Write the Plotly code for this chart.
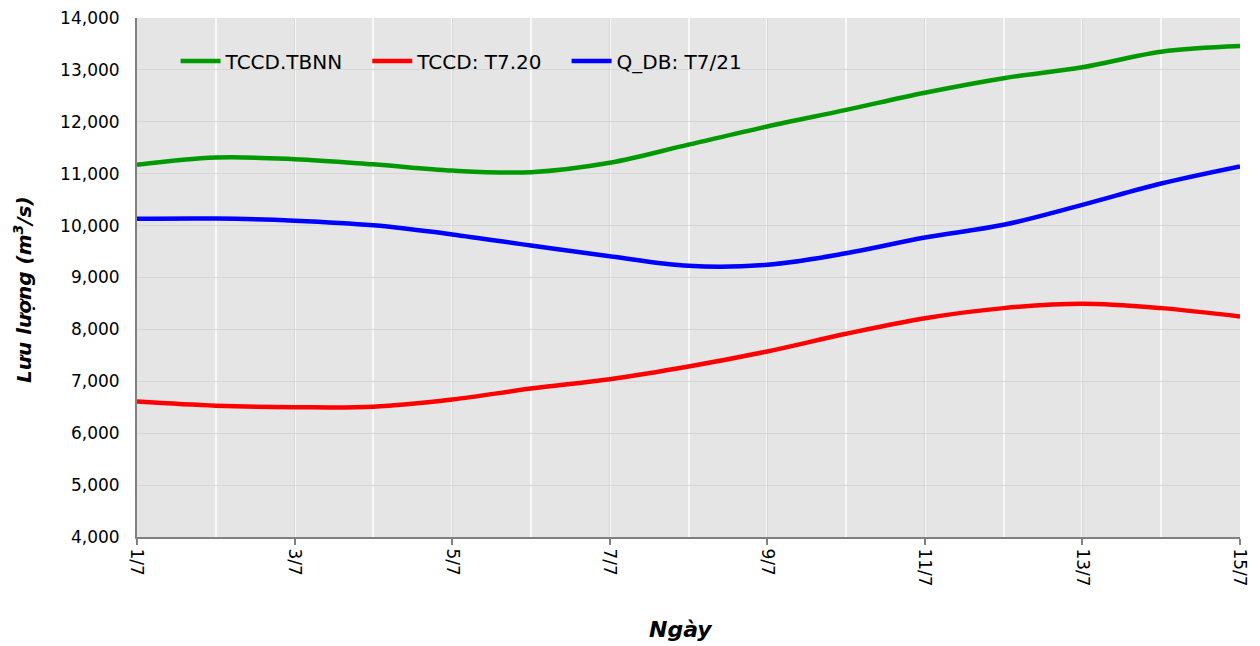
import plotly.graph_objects as go

days = list(range(1, 16))
day_labels = [f"{d}/7" for d in days]

tccd_tbnn = [11170, 11310, 11280, 11180, 11060, 11030, 11210, 11560, 11910, 12230, 12560, 12840, 13050, 13350, 13460]
tccd_t720 = [6610, 6530, 6500, 6510, 6650, 6860, 7040, 7285, 7575, 7915, 8215, 8410, 8495, 8410, 8250]
qdb_t721 = [10130, 10135, 10095, 10005, 9830, 9615, 9410, 9225, 9245, 9466, 9770, 10015, 10400, 10810, 11140]

FONT = "DejaVu Sans"
PAD = "\u00a0\u00a0\u00a0"

fig = go.Figure()
series = [
    ("TCCD.TBNN", tccd_tbnn, "#009900"),
    ("TCCD: T7.20", tccd_t720, "#ff0000"),
    ("Q_DB: T7/21", qdb_t721, "#0000ff"),
]
for name, vals, col in series:
    fig.add_trace(go.Scatter(
        x=days, y=vals, name=name + PAD, mode="lines",
        line=dict(color=col, width=4.5, shape="spline", smoothing=1.0),
    ))

# page body has an 8px margin: figure is sized so the plot area lands where the reference has it
fig.update_layout(
    width=1252, height=638,
    margin=dict(l=129, r=20, t=10, b=109, autoexpand=False),
    paper_bgcolor="white",
    plot_bgcolor="#e5e5e5",
    font=dict(family=FONT, size=17, color="#000000"),
    showlegend=True,
    legend=dict(
        orientation="h", x=0.035, y=0.917, xanchor="left", yanchor="middle",
        bgcolor="rgba(0,0,0,0)", font=dict(family=FONT, size=20, color="#000"),
        itemwidth=40, tracegroupgap=0,
    ),
    annotations=[
        dict(text="<b><i>Lưu lượng (m<sup>3</sup>/s)</i></b>", textangle=-90,
             xref="paper", yref="paper", x=0, y=0.476, xshift=-114,
             xanchor="center", yanchor="middle", showarrow=False,
             font=dict(family=FONT, size=20)),
        dict(text="<b><i>Ngày</i></b>",
             xref="paper", yref="paper", x=0.493, y=-0.179,
             xanchor="center", yanchor="middle", showarrow=False,
             font=dict(family=FONT, size=22)),
    ],
)

fig.update_xaxes(
    range=[1, 15],
    automargin=False,
    tickmode="array",
    tickvals=days[::2],
    ticktext=day_labels[::2],
    tickangle=90,
    ticklabeloverflow="allow",
    ticks="outside", ticklen=6, tickcolor="#808080", tickwidth=1.5,
    showline=True, linecolor="#808080", linewidth=2,
    showgrid=True, gridcolor="#d6d6d6", gridwidth=1,
    minor=dict(tickmode="linear", tick0=0, dtick=1, showgrid=True, gridcolor="#f8f8f8", gridwidth=1.5, ticks=""),
    zeroline=False,
    tickfont=dict(family=FONT, size=17),
)
fig.update_yaxes(
    range=[4000, 14000],
    automargin=False,
    dtick=1000,
    tickformat=",d",
    ticklabeloverflow="allow",
    showline=True, linecolor="#808080", linewidth=2,
    showgrid=True, gridcolor="#d6d6d6", gridwidth=1,
    ticks="", zeroline=False,
    tickfont=dict(family=FONT, size=17),
    ticklabelstandoff=12,
)

fig.write_html("out.html")
